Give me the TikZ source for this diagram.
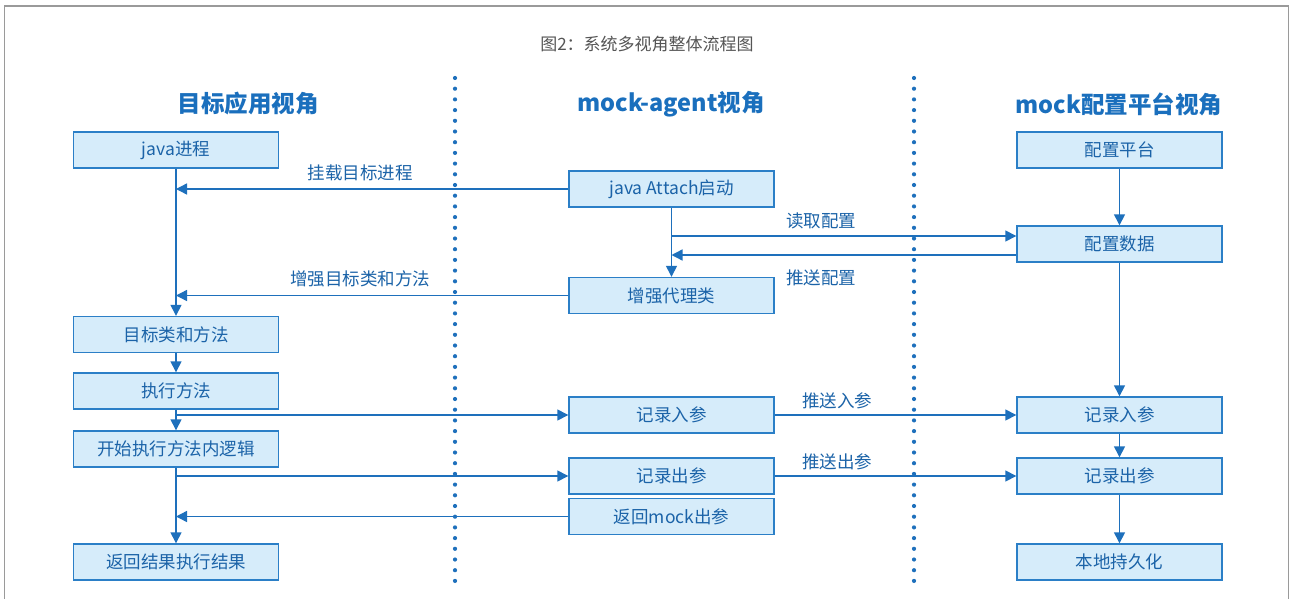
\documentclass[tikz,border=0pt]{standalone}
\usepackage{fontspec}
\setmainfont{Noto Sans CJK SC}
\usetikzlibrary{arrows.meta,calc}
\definecolor{boxfill}{HTML}{D6ECFA}
\definecolor{boxline}{HTML}{2B7FC7}
\definecolor{flow}{HTML}{1E70BC}
\definecolor{txt}{HTML}{1B63A8}
\definecolor{head}{HTML}{1A6FBD}
\definecolor{framec}{HTML}{9A9A9A}
\definecolor{titlec}{HTML}{555555}
\begin{document}
\begin{tikzpicture}[x=1pt,y=-1pt,
 proc/.style={draw=boxline, fill=boxfill, line width=1.4pt, minimum width=205pt, minimum height=36pt, inner sep=0pt, text=txt, font=\fontsize{17.5}{20}\selectfont},
 flowline/.style={draw=flow, line width=1.4pt, -{Triangle[length=11pt,width=11pt]}},
 lbl/.style={text=txt, font=\fontsize{17.5}{20}\selectfont, inner sep=0pt},
 hdr/.style={text=head, font=\fontsize{23.5}{26}\selectfont\bfseries, inner sep=0pt},
 dotc/.style={fill=flow},
]
\useasboundingbox (0,0) rectangle (1292,599);
\clip (0,0) rectangle (1292,599);
\fill[white] (0,0) rectangle (1292,599);
\draw[framec, line width=1.2pt] (4.5,6) rectangle (1288.5,640);

% title
\node[text=titlec, font=\fontsize{17}{20}\selectfont, inner sep=0pt] (title) at (647,44) {图2：系统多视角整体流程图};

% headers
\node[hdr] (h1) at (248,104) {目标应用视角};
\node[hdr] (h2) at (671,104) {mock-agent视角};
\node[hdr] (h3) at (1119,104) {mock配置平台视角};

% dotted separators
\foreach \i in {0,...,47} {
  \fill[dotc] (455,78+\i*10.7) circle (2.1pt);
  \fill[dotc] (914,78+\i*10.7) circle (2.1pt);
}

% left column
\node[proc] (java) at (176,150) {java进程};
\node[proc] (cls) at (176,334.5) {目标类和方法};
\node[proc] (exec) at (176,391) {执行方法};
\node[proc] (start) at (176,449) {开始执行方法内逻辑};
\node[proc] (ret) at (176,562) {返回结果执行结果};

% middle column
\node[proc] (attach) at (671.5,189) {java Attach启动};
\node[proc] (proxy) at (671.5,295.5) {增强代理类};
\node[proc] (min) at (671.5,415) {记录入参};
\node[proc] (mout) at (671.5,476) {记录出参};
\node[proc] (mret) at (671.5,516.5) {返回mock出参};

% right column
\node[proc] (plat) at (1119.5,150) {配置平台};
\node[proc] (cfg) at (1119.5,244) {配置数据};
\node[proc] (rin) at (1119.5,415) {记录入参};
\node[proc] (rout) at (1119.5,476) {记录出参};
\node[proc] (persist) at (1119.5,562) {本地持久化};

% left flow
\draw[flowline] (java.south) -- (cls.north);
\draw[flowline] (cls.south) -- (exec.north);
\draw[flowline] (exec.south) -- (start.north);
\draw[flowline] (start.south) -- (ret.north);

\draw[flowline] (attach.west) -- (attach.west -| java.south);
\draw[flowline] (proxy.west) -- (proxy.west -| java.south);
\draw[flowline] (min.west -| exec.south) -- (min.west);
\draw[flowline] (mout.west -| start.south) -- (mout.west);
\draw[flowline] (mret.west) -- (mret.west -| start.south);

% middle flow
\draw[flowline] (attach.south) -- (proxy.north);
\coordinate (rd) at ([yshift=8pt]cfg.west);
\coordinate (ps) at ([yshift=-11pt]cfg.west);
\draw[flowline] (rd -| attach.south) -- (rd);
\draw[flowline] (ps) -- (ps -| attach.south);
\draw[flowline] (min.east) -- (rin.west);
\draw[flowline] (mout.east) -- (rout.west);

% right flow
\draw[flowline] (plat.south) -- (cfg.north);
\draw[flowline] (cfg.south) -- (rin.north);
\draw[flowline] (rin.south) -- (rout.north);
\draw[flowline] (rout.south) -- (persist.north);

% labels
\node[lbl] (l1) at (360,173) {挂载目标进程};
\node[lbl] (l2) at (360,279) {增强目标类和方法};
\node[lbl] (l3) at (821,221) {读取配置};
\node[lbl] (l4) at (821,278) {推送配置};
\node[lbl] (l5) at (837,401) {推送入参};
\node[lbl] (l6) at (837,462) {推送出参};
\end{tikzpicture}
\end{document}
